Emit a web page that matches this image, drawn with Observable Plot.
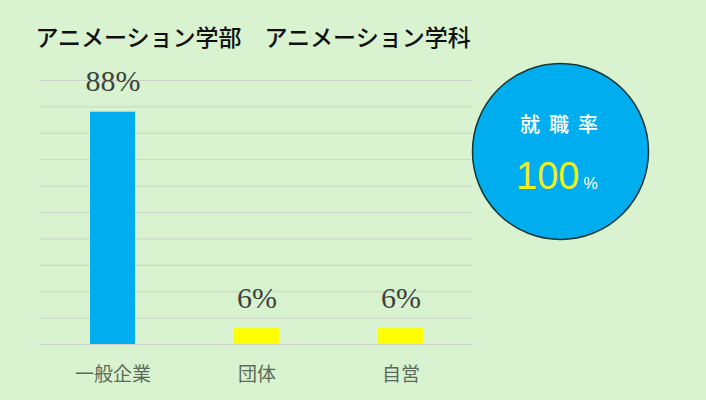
<!DOCTYPE html>
<html><head><meta charset="utf-8">
<script src="https://cdn.jsdelivr.net/npm/d3@7"></script>
<script src="https://cdn.jsdelivr.net/npm/@observablehq/plot@0.6"></script>
<style>
html,body{margin:0;padding:0;background:#d9f2cf;}
.kpi-label text{letter-spacing:9px;}
</style></head><body><div id="chart"></div>
<script>
const categories = ["一般企業", "団体", "自営"];
const shares = [88, 6, 6];
const barColors = ["#00aeef", "#ffff00", "#ffff00"];
const yTicks = [0, 10, 20, 30, 40, 50, 60, 70, 80, 90, 100];
const title = "アニメーション学部　アニメーション学科";
const kpiLabel = "就職率";
const kpiValue = 100;
const kpiUnit = "%";

const data = categories.map((c, i) => ({category: c, share: shares[i], color: barColors[i]}));

const plot = Plot.plot({
  width: 706, height: 400,
  marginLeft: 40, marginRight: 234, marginTop: 80, marginBottom: 56,
  style: {background: "#d9f2cf", fontFamily: "'Noto Sans CJK JP', sans-serif", overflow: "visible"},
  x: {domain: categories, paddingInner: 0.69, paddingOuter: 0.345, label: null},
  y: {domain: [0, 100], axis: null},
  color: {type: "identity"},
  marks: [
    Plot.gridY(yTicks, {stroke: "#ccd4c9", strokeOpacity: 1}),
    Plot.barY(data, {x: "category", y: "share", fill: "color"}),
    Plot.text(data, {x: "category", y: "share", text: d => d.share + "%", dy: -21, lineAnchor: "bottom",
      fontFamily: "'Liberation Serif', serif", fontSize: 30, fill: "#3b443b"}),
    Plot.axisX({tickSize: 0, tickPadding: 23, fontSize: 19, color: "#5b6b5b", label: null}),
    Plot.text([title], {text: d => d, frameAnchor: "top-left", dx: -5, dy: -42, textAnchor: "start",
      lineAnchor: "middle", fontSize: 23, fontWeight: 500, fill: "#111"}),
    Plot.dot([kpiValue], {frameAnchor: "top-right", dx: 88, dy: 71, r: 88,
      fill: "#00aeef", stroke: "#173636", strokeWidth: 1.5}),
    Plot.text([kpiLabel], {text: d => d, frameAnchor: "top-right", dx: 91, dy: 45, lineAnchor: "middle",
      textAnchor: "middle", fontSize: 20, fontWeight: 500, fill: "#ffffff", className: "kpi-label"}),
    Plot.text([kpiValue], {text: d => String(d), frameAnchor: "top-right", dx: 107, dy: 108, lineAnchor: "bottom",
      textAnchor: "end", fontFamily: "'Liberation Sans', sans-serif", fontSize: 38, fill: "#eef01e"}),
    Plot.text([kpiUnit], {text: d => d, frameAnchor: "top-right", dx: 111, dy: 108, lineAnchor: "bottom",
      textAnchor: "start", fontFamily: "'Liberation Sans', sans-serif", fontSize: 16, fill: "#ffffff"})
  ]
});
document.getElementById("chart").appendChild(plot);
</script></body></html>
